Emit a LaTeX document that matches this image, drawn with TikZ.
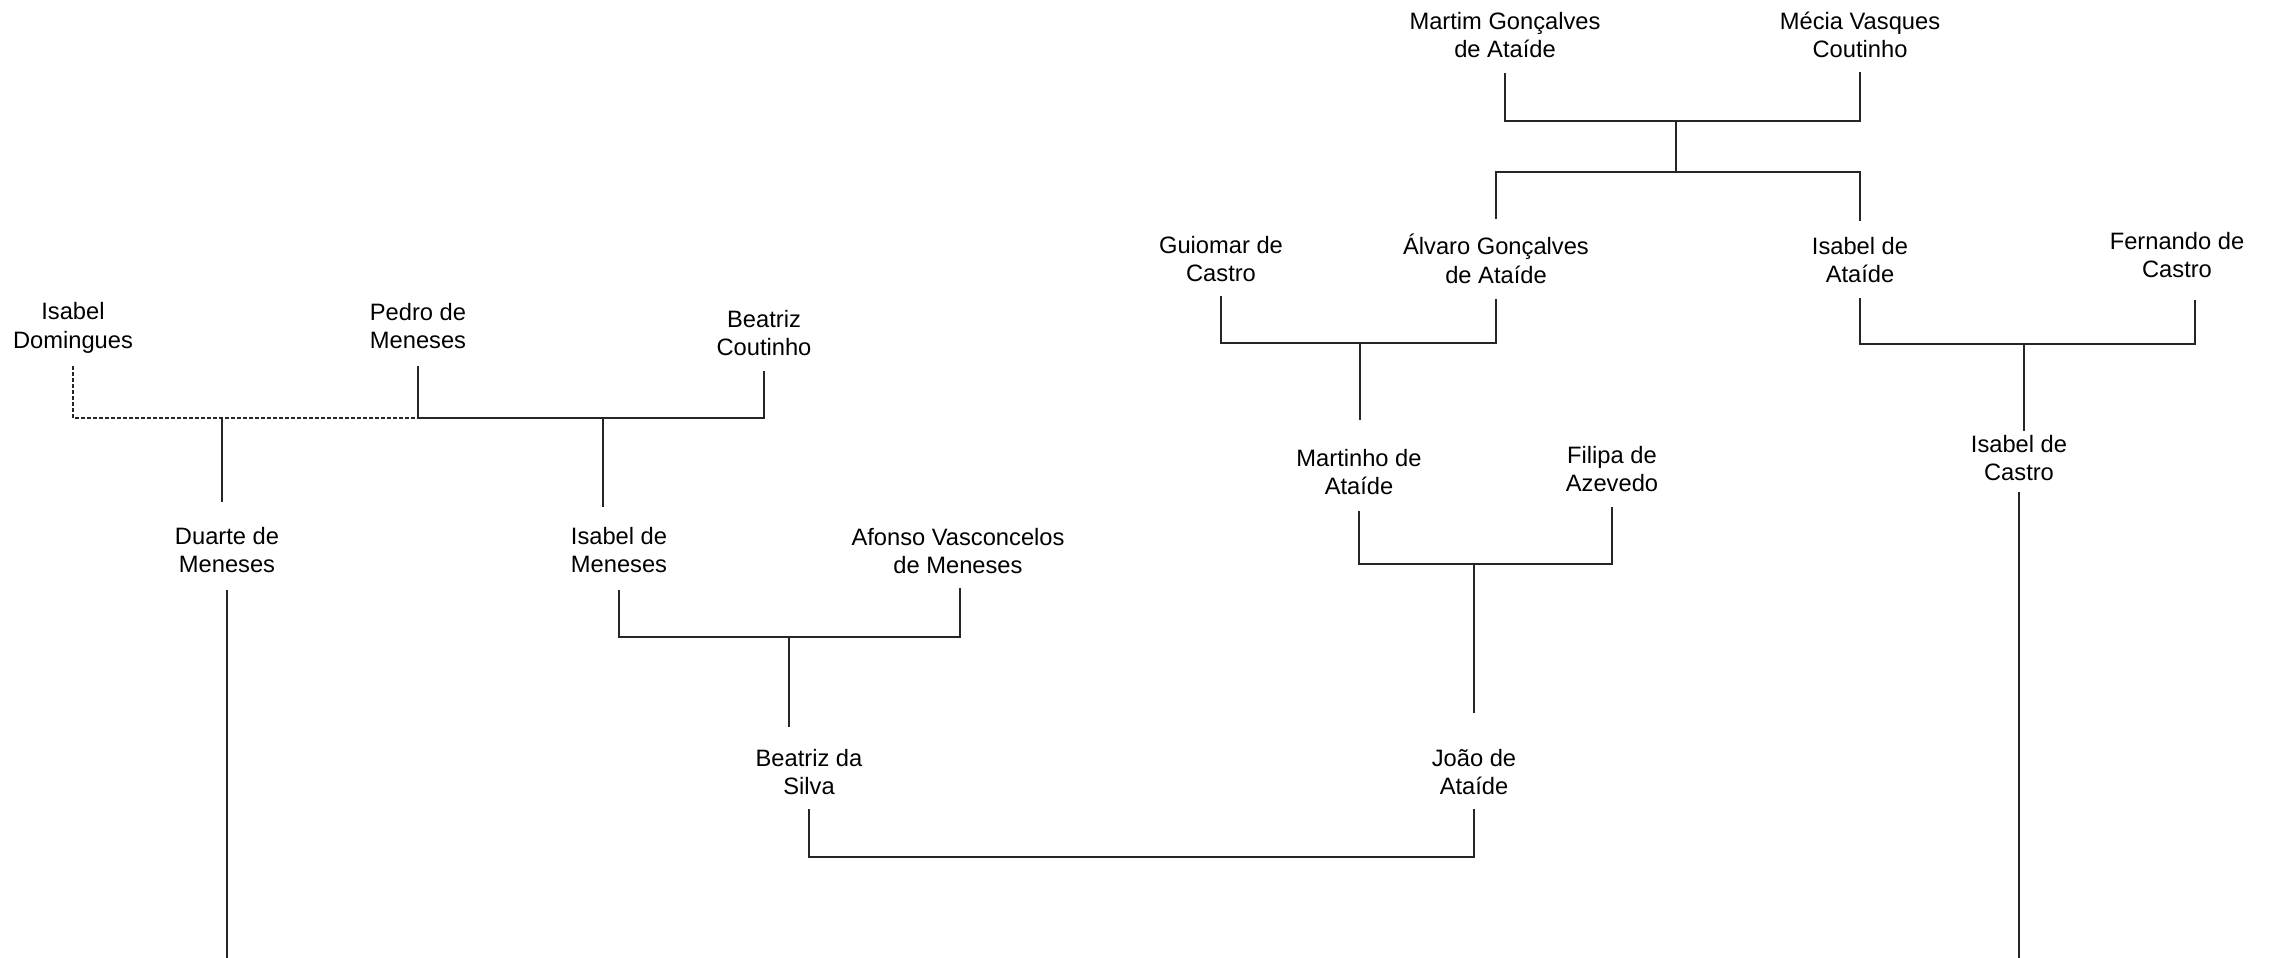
\documentclass[tikz,border=0pt]{standalone}
\usepackage{fontspec}
\setmainfont{Liberation Sans}
\begin{document}
\begin{tikzpicture}[x=1pt,y=-1pt,
  person/.style={align=center,inner sep=0pt,font=\fontsize{23.7}{28.5}\selectfont},
  link/.style={line width=1.3pt,color=black!85},
  spouse/.style={link,dashed,dash pattern=on 4pt off 2pt}]
\useasboundingbox (0,0) rectangle (2272,958);
% persons
\node[person] (idom) at (73,328) {Isabel\\Domingues};
\node[person] (pedro) at (418,326) {Pedro de\\Meneses};
\node[person] (beac) at (764,333) {Beatriz\\Coutinho};
\node[person] (duarte) at (227,550) {Duarte de\\Meneses};
\node[person] (isam) at (619,550) {Isabel de\\Meneses};
\node[person] (afonso) at (958,551) {Afonso Vasconcelos\\de Meneses};
\node[person] (beas) at (809,772) {Beatriz da\\Silva};
\node[person] (joao) at (1474,772) {João de\\Ataíde};
\node[person] (martim) at (1505,35) {Martim Gonçalves\\de Ataíde};
\node[person] (mecia) at (1860,35) {Mécia Vasques\\Coutinho};
\node[person] (guiomar) at (1221,259) {Guiomar de\\Castro};
\node[person] (alvaro) at (1496,259) {Álvaro Gonçalves\\de Ataíde};
\node[person] (isaa) at (1860,260) {Isabel de\\Ataíde};
\node[person] (fern) at (2177,255) {Fernando de\\Castro};
\node[person] (martinho) at (1359,472) {Martinho de\\Ataíde};
\node[person] (filipa) at (1612,469) {Filipa de\\Azevedo};
\node[person] (isac) at (2019,458) {Isabel de\\Castro};
% connector end points
\coordinate (idomA) at (73,366);
\coordinate (pedroA) at (418,366);
\coordinate (beacA) at (764,371);
\coordinate (jPB) at (418,418);
\coordinate (jID) at (222,418);
\coordinate (jIM) at (603,418);
\coordinate (duarteT) at (222,502);
\coordinate (isamT) at (603,507);
\coordinate (duarteB) at (227,590);
\coordinate (duarteE) at (227,958);
\coordinate (isamB) at (619,590);
\coordinate (afonsoB) at (960,588);
\coordinate (jIA) at (789,637);
\coordinate (beasT) at (789,727);
\coordinate (beasB) at (809,809);
\coordinate (joaoB) at (1474,809);
\coordinate (martimB) at (1505,73);
\coordinate (meciaB) at (1860,72);
\coordinate (jMM) at (1676,121);
\coordinate (sib) at (1676,172);
\coordinate (alvaroT) at (1496,219);
\coordinate (isaaT) at (1860,221);
\coordinate (guiomarB) at (1221,296);
\coordinate (alvaroB) at (1496,299);
\coordinate (jGA) at (1360,343);
\coordinate (martinhoT) at (1360,420);
\coordinate (isaaB) at (1860,298);
\coordinate (fernB) at (2195,300);
\coordinate (jIF) at (2024,344);
\coordinate (isacT) at (2024,431);
\coordinate (isacB) at (2019,492);
\coordinate (isacE) at (2019,958);
\coordinate (martinhoB) at (1359,511);
\coordinate (filipaB) at (1612,507);
\coordinate (jMF) at (1474,564);
\coordinate (joaoT) at (1474,713);
% Pedro de Meneses and partners
\draw[spouse] (idomA) |- (jPB);
\draw[link] (pedroA) -- (jPB) -| (beacA);
\draw[link] (jID) -- (duarteT);
\draw[link] (jIM) -- (isamT);
\draw[link] (duarteB) -- (duarteE);
% Isabel de Meneses + Afonso
\draw[link] (isamB) |- (jIA) -| (afonsoB);
\draw[link] (jIA) -- (beasT);
% Beatriz da Silva + João
\draw[link] (beasB) |- (joaoB |- 0,857) -- (joaoB);
% Martim + Mécia
\draw[link] (martimB) |- (jMM) -| (meciaB);
\draw[link] (jMM) -- (sib);
\draw[link] (alvaroT) |- (sib) -| (isaaT);
% Guiomar + Álvaro
\draw[link] (guiomarB) |- (jGA) -| (alvaroB);
\draw[link] (jGA) -- (martinhoT);
% Isabel de Ataíde + Fernando
\draw[link] (isaaB) |- (jIF) -| (fernB);
\draw[link] (jIF) -- (isacT);
\draw[link] (isacB) -- (isacE);
% Martinho + Filipa
\draw[link] (martinhoB) |- (jMF) -| (filipaB);
\draw[link] (jMF) -- (joaoT);
\end{tikzpicture}
\end{document}
